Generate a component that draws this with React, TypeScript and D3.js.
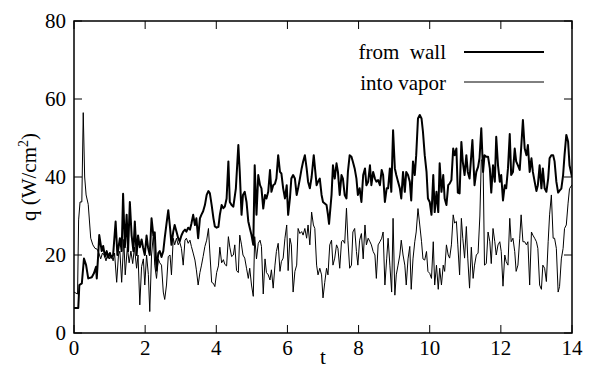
import React from "react";
import * as d3 from "d3";

const xTicks = [0, 2, 4, 6, 8, 10, 12, 14];
const yTicks = [0, 20, 40, 60, 80];
const seriesNames = ["from  wall", "into vapor"];

const wallT = [0.0,0.12,0.15,0.22,0.28,0.34,0.40,0.50,0.56,0.62,0.64,0.68,0.71,0.78,0.82,0.87,0.92,0.96,1.01,1.05,1.10,1.17,1.22,1.29,1.34,1.38,1.43,1.48,1.52,1.57,1.62,1.67,1.71,1.76,1.80,1.85,1.90,1.94,1.99,2.04,2.08,2.13,2.18,2.23,2.27,2.32,2.37,2.41,2.46,2.51,2.55,2.60,2.65,2.70,2.74,2.79,2.83,2.88,2.93,2.97,3.02,3.07,3.12,3.16,3.21,3.26,3.30,3.35,3.40,3.44,3.49,3.54,3.58,3.63,3.68,3.73,3.78,3.82,3.87,3.92,3.96,4.01,4.06,4.10,4.15,4.20,4.24,4.29,4.34,4.38,4.43,4.48,4.55,4.62,4.66,4.71,4.75,4.80,4.85,4.90,4.94,4.99,5.04,5.08,5.13,5.18,5.23,5.27,5.32,5.37,5.41,5.46,5.51,5.55,5.60,5.65,5.69,5.74,5.79,5.83,5.88,5.93,5.98,6.02,6.07,6.11,6.16,6.21,6.26,6.30,6.35,6.40,6.44,6.49,6.54,6.58,6.63,6.68,6.74,6.82,6.86,6.91,6.96,7.00,7.05,7.10,7.14,7.17,7.24,7.28,7.33,7.38,7.42,7.47,7.52,7.56,7.61,7.66,7.70,7.75,7.80,7.84,7.89,7.94,7.98,8.03,8.08,8.13,8.18,8.22,8.27,8.32,8.36,8.41,8.46,8.50,8.55,8.60,8.65,8.69,8.74,8.79,8.83,8.88,8.92,8.97,9.02,9.06,9.11,9.16,9.20,9.25,9.30,9.34,9.39,9.44,9.48,9.53,9.58,9.62,9.67,9.72,9.77,9.81,9.86,9.91,9.95,10.00,10.05,10.10,10.14,10.19,10.24,10.28,10.33,10.38,10.42,10.47,10.52,10.56,10.61,10.66,10.70,10.75,10.79,10.84,10.89,10.93,10.98,11.03,11.07,11.12,11.20,11.26,11.31,11.36,11.40,11.45,11.50,11.54,11.59,11.64,11.69,11.73,11.78,11.83,11.87,11.92,11.97,12.01,12.06,12.11,12.15,12.20,12.25,12.29,12.34,12.39,12.43,12.48,12.53,12.57,12.62,12.67,12.72,12.76,12.81,12.86,12.90,12.95,13.00,13.04,13.09,13.14,13.18,13.23,13.28,13.33,13.37,13.42,13.47,13.51,13.56,13.61,13.65,13.70,13.75,13.79,13.84,13.89,13.93,14.0];
const wallQ = [6.4,6.4,12.3,12.7,19.1,17.4,14.0,14.3,15.3,17.0,14.0,20.0,25.1,21.0,22.3,19.6,21.0,19.3,20.5,19.3,20.0,28.6,20.0,24.3,21.0,35.7,22.0,30.3,21.0,33.6,25.0,21.0,28.6,20.0,25.0,22.0,24.0,22.0,20.0,25.0,22.0,20.0,29.4,25.1,25.8,16.0,20.5,21.0,19.5,21.0,24.3,28.0,31.5,27.0,22.6,26.0,27.7,26.0,24.3,23.5,25.0,26.0,26.5,26.0,27.0,26.5,28.0,30.3,27.7,29.4,24.3,29.4,30.3,31.2,32.8,35.4,36.4,35.8,32.8,29.4,27.3,27.0,27.2,30.3,32.8,32.0,32.4,34.5,44.0,33.6,32.8,32.4,37.0,48.2,41.3,30.3,35.4,36.2,33.6,28.6,27.0,25.1,22.6,43.0,30.3,40.5,37.9,37.1,31.9,35.4,34.5,36.2,41.8,36.2,37.9,38.3,39.6,45.6,41.3,40.9,37.1,34.5,37.9,30.3,34.5,39.6,40.5,39.6,35.4,37.1,39.6,42.2,43.9,45.6,42.2,38.8,37.1,40.0,45.6,37.9,38.8,39.6,35.4,33.6,33.2,32.8,30.3,28.0,35.4,43.0,39.6,43.5,41.3,35.4,40.5,39.6,35.4,34.5,41.3,45.6,45.2,43.9,42.2,39.6,35.4,37.1,33.6,40.5,42.2,37.9,38.8,43.0,37.9,41.3,39.6,38.8,39.2,37.9,41.8,40.5,33.6,37.1,37.1,42.2,36.2,52.0,42.2,40.5,38.8,37.1,34.5,41.3,36.2,41.3,40.5,38.8,34.0,44.0,40.5,45.6,55.0,55.9,55.0,51.6,45.6,41.4,34.5,33.6,30.3,40.5,31.0,36.2,31.0,43.5,36.2,40.5,34.5,32.8,37.9,38.3,39.2,47.3,45.6,47.3,36.0,35.8,49.0,43.9,40.5,45.6,41.3,39.6,49.5,37.9,41.3,42.6,44.8,52.5,41.3,45.6,45.2,45.2,42.2,36.0,43.0,38.8,50.3,43.0,38.8,40.5,34.0,37.9,37.1,42.2,51.0,40.5,41.3,47.3,44.0,43.0,41.8,47.3,54.6,47.3,45.6,48.2,41.3,44.8,41.3,38.8,36.4,37.9,43.0,37.1,42.2,37.1,36.2,39.6,44.8,45.6,45.6,44.0,38.8,36.0,36.5,37.0,40.5,45.6,50.8,49.1,43.0,40.0];

const vaporT = [0.0,0.10,0.13,0.17,0.22,0.26,0.30,0.34,0.40,0.47,0.53,0.59,0.65,0.70,0.75,0.80,0.85,0.90,0.95,1.00,1.05,1.10,1.14,1.20,1.25,1.29,1.34,1.40,1.44,1.50,1.55,1.60,1.65,1.70,1.76,1.80,1.85,1.90,1.95,1.99,2.04,2.09,2.13,2.18,2.23,2.27,2.32,2.37,2.41,2.46,2.51,2.55,2.60,2.65,2.70,2.74,2.79,2.83,2.88,2.93,2.97,3.02,3.07,3.12,3.16,3.21,3.26,3.30,3.35,3.40,3.44,3.49,3.54,3.58,3.63,3.68,3.73,3.78,3.82,3.87,3.92,3.96,4.01,4.06,4.10,4.15,4.20,4.24,4.29,4.34,4.38,4.43,4.48,4.52,4.57,4.62,4.66,4.71,4.75,4.80,4.85,4.90,4.94,4.99,5.04,5.08,5.13,5.18,5.23,5.27,5.32,5.37,5.41,5.46,5.51,5.55,5.60,5.65,5.69,5.74,5.79,5.83,5.88,5.93,5.98,6.02,6.07,6.11,6.16,6.21,6.26,6.30,6.35,6.40,6.44,6.49,6.54,6.58,6.63,6.68,6.73,6.77,6.82,6.86,6.91,6.96,7.00,7.05,7.10,7.14,7.19,7.24,7.28,7.33,7.38,7.42,7.47,7.52,7.56,7.61,7.66,7.70,7.75,7.80,7.84,7.89,7.94,7.98,8.03,8.08,8.13,8.18,8.22,8.27,8.32,8.36,8.41,8.46,8.50,8.55,8.60,8.65,8.69,8.74,8.79,8.83,8.88,8.93,8.97,9.02,9.06,9.11,9.16,9.20,9.25,9.30,9.34,9.39,9.44,9.48,9.53,9.58,9.62,9.67,9.72,9.77,9.81,9.86,9.91,9.95,10.00,10.05,10.10,10.14,10.19,10.24,10.28,10.33,10.38,10.42,10.47,10.52,10.56,10.61,10.66,10.70,10.75,10.79,10.84,10.89,10.93,10.98,11.03,11.07,11.12,11.17,11.22,11.26,11.31,11.36,11.41,11.45,11.50,11.54,11.59,11.64,11.69,11.73,11.78,11.83,11.87,11.92,11.97,12.01,12.06,12.11,12.15,12.20,12.25,12.29,12.34,12.39,12.43,12.48,12.53,12.57,12.62,12.67,12.72,12.76,12.81,12.86,12.90,12.95,13.00,13.04,13.09,13.14,13.18,13.23,13.28,13.33,13.37,13.42,13.47,13.51,13.56,13.61,13.65,13.70,13.75,13.79,13.84,13.89,13.93,14.0];
const vaporQ = [10.5,10.0,29.0,33.6,33.6,56.5,40.0,35.4,33.0,24.3,22.6,21.7,21.5,20.5,19.0,20.5,20.0,18.5,20.5,19.0,20.0,18.5,20.5,13.0,20.0,21.0,13.0,24.0,14.9,22.0,18.0,21.0,17.8,22.0,16.6,20.0,7.2,17.0,19.0,12.3,20.0,15.0,5.5,20.0,25.1,17.4,14.0,19.0,18.0,17.4,10.5,8.6,12.3,19.6,20.0,14.9,24.3,22.6,24.3,22.6,23.4,21.7,17.4,23.8,24.3,23.0,23.8,22.2,20.5,18.7,16.2,12.3,15.5,17.2,19.6,22.2,23.8,26.8,20.5,13.0,12.7,11.9,15.5,17.2,22.0,18.0,18.8,17.6,17.2,24.7,22.0,19.6,20.0,22.6,16.0,15.5,25.1,22.6,20.0,19.2,16.6,14.0,16.6,12.3,9.4,24.7,19.0,23.0,23.8,22.2,10.0,19.0,15.5,14.9,13.6,16.2,11.5,17.4,20.9,23.0,15.8,18.3,19.2,24.3,27.7,16.0,24.3,22.6,10.5,15.8,17.4,26.8,25.5,26.0,25.1,26.8,24.3,27.7,22.6,31.0,27.7,26.8,17.4,14.9,16.6,14.9,9.0,13.0,16.6,14.9,22.6,23.8,17.4,19.2,22.6,21.7,16.6,23.4,23.8,23.0,32.0,23.8,16.6,17.4,25.9,26.8,20.9,17.4,23.8,25.5,19.0,27.7,22.6,24.3,23.4,22.6,20.9,20.0,14.0,22.6,23.4,24.3,25.9,12.3,19.0,24.3,17.4,10.5,29.4,9.7,14.9,17.4,20.0,23.8,20.0,17.4,12.3,19.0,22.2,11.2,19.0,23.4,25.9,31.9,27.7,23.4,19.0,18.7,20.9,15.8,15.3,14.0,23.4,12.3,17.4,11.2,16.6,12.3,17.4,15.8,22.6,20.0,19.2,22.6,30.3,28.2,28.6,22.6,14.9,29.4,24.3,19.2,27.3,19.2,11.5,22.0,14.0,17.4,20.0,20.5,30.0,44.4,44.0,17.4,17.8,25.9,23.4,17.8,26.8,23.4,20.0,22.6,23.4,20.9,12.0,20.0,18.3,17.4,29.4,23.4,24.3,20.9,15.8,17.4,24.3,30.3,23.4,23.4,22.6,23.4,12.3,25.9,25.1,24.3,23.4,21.7,12.3,11.2,17.4,16.6,13.2,23.4,30.3,35.4,24.3,24.3,21.7,10.5,11.9,19.0,21.7,26.8,27.7,33.3,37.0,38.0];

const W = 590, H = 370;
const L = 74, R = 572, T = 21, B = 333;
const FONT = "Liberation Serif, Times New Roman, DejaVu Serif, serif";
const txt: React.CSSProperties = { fontFamily: FONT, fontSize: 21 };

export default function App() {
  const x = d3.scaleLinear().domain([0, 14]).range([L, R]);
  const y = d3.scaleLinear().domain([0, 80]).range([B, T]);
  const line = d3.line<[number, number]>().x(d => x(d[0])).y(d => y(d[1]));
  const wallPts: [number, number][] = wallT.map((t, i) => [t, wallQ[i]]);
  const vaporPts: [number, number][] = vaporT.map((t, i) => [t, vaporQ[i]]);
  const tl = 8;
  return (
    <svg width={W} height={H} style={{ position: "absolute", left: 0, top: 0, background: "#fff", fontFamily: FONT }}>
      <rect x={0} y={0} width={W} height={H} fill="#fff" />
      <defs>
        <clipPath id="plot">
          <rect x={L} y={T} width={R - L} height={B - T} />
        </clipPath>
      </defs>
      <g clipPath="url(#plot)" fill="none" stroke="#000" strokeLinejoin="round">
        <path d={line(vaporPts) || ""} strokeWidth={1} />
        <path d={line(wallPts) || ""} strokeWidth={2} />
      </g>
      {xTicks.map(v => (
        <g key={"x" + v}>
          <line x1={x(v)} x2={x(v)} y1={B} y2={B - tl} stroke="#000" strokeWidth={1} />
          <line x1={x(v)} x2={x(v)} y1={T} y2={T + tl} stroke="#000" strokeWidth={1} />
          <text x={x(v)} y={355} textAnchor="middle" style={txt}>{v}</text>
        </g>
      ))}
      {yTicks.map(v => (
        <g key={"y" + v}>
          <line x1={L} x2={L + tl} y1={y(v)} y2={y(v)} stroke="#000" strokeWidth={1} />
          <line x1={R} x2={R - tl} y1={y(v)} y2={y(v)} stroke="#000" strokeWidth={1} />
          <text x={66} y={y(v) + 7} textAnchor="end" style={txt}>{v}</text>
        </g>
      ))}
      <rect x={L} y={T} width={R - L} height={B - T} fill="none" stroke="#000" strokeWidth={1.5} />
      <text x={(L + R) / 2} y={364} textAnchor="middle" style={txt}>t</text>
      <text transform={`translate(36,${(T + B) / 2}) rotate(-90)`} textAnchor="middle" style={txt}>
        q (W/cm<tspan style={{ fontSize: 14 }} dy={-8}>2</tspan><tspan dy={8}>)</tspan>
      </text>
      <text x={446} y={59} textAnchor="end" style={{ ...txt, whiteSpace: "pre" }}>{seriesNames[0]}</text>
      <line x1={464} x2={544} y1={52} y2={52} stroke="#000" strokeWidth={2} />
      <text x={446} y={90} textAnchor="end" style={txt}>{seriesNames[1]}</text>
      <line x1={464} x2={544} y1={82} y2={82} stroke="#000" strokeWidth={1} />
    </svg>
  );
}
